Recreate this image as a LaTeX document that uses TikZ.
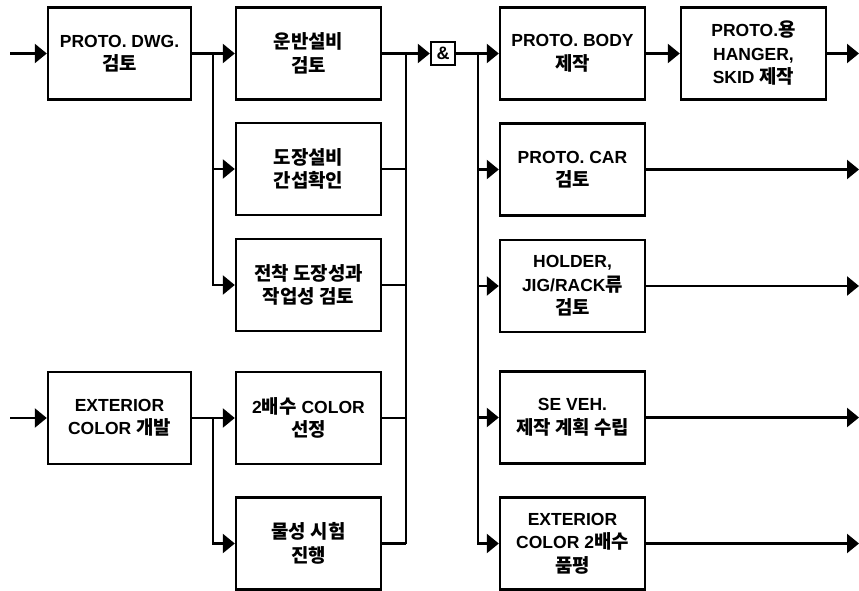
\documentclass[tikz,border=0pt]{standalone}
\usepackage{fontspec}
\setmainfont{Liberation Sans}
\newfontfamily\kr{Noto Sans CJK KR}[Scale=1.08]
\usetikzlibrary{arrows.meta}
\begin{document}
\begin{tikzpicture}[x=1pt,y=-1pt,
  box/.style={draw, line width=2.4pt, minimum width=145pt, minimum height=92pt,
    align=center, inner sep=0pt, font=\bfseries\fontsize{17.5}{23.5}\selectfont},
  ampbox/.style={draw, line width=2.4pt, minimum width=24pt, minimum height=23pt,
    inner sep=0pt, font=\bfseries\fontsize{18}{18}\selectfont},
  conn/.style={line width=2.4pt},
  arr/.style={conn, -{Triangle[length=12pt,width=19pt]}}]
\useasboundingbox (0,0) rectangle (859,591);

% left column
\node[box, minimum width=143pt] (b1) at (119.5,53.5) {PROTO. DWG.\\{\kr 검토}};
\node[box, minimum width=143pt] (b5) at (119.5,418) {EXTERIOR\\COLOR {\kr 개발}};
% middle column
\node[box] (b2) at (308.5,53.5) {{\kr 운반설비}\\{\kr 검토}};
\node[box] (b3) at (308.5,169) {{\kr 도장설비}\\{\kr 간섭확인}};
\node[box] (b4) at (308.5,285) {{\kr 전착 도장성과}\\{\kr 작업성 검토}};
\node[box] (b6) at (308.5,418) {2{\kr 배수} COLOR\\{\kr 선정}};
\node[box] (b7) at (308.5,543.5) {{\kr 물성 시험}\\{\kr 진행}};
% and gate
\node[ampbox] (amp) at (443,53.5) {\&};
% right column
\node[box] (r1) at (572.5,53.5) {PROTO. BODY\\{\kr 제작}};
\node[box] (r2) at (753.5,53.5) {PROTO.{\kr 용}\\HANGER,\\SKID {\kr 제작}};
\node[box] (r3) at (572.5,169.5) {PROTO. CAR\\{\kr 검토}};
\node[box] (r4) at (572.5,286) {HOLDER,\\JIG/RACK{\kr 류}\\{\kr 검토}};
\node[box] (r5) at (572.5,417.5) {SE VEH.\\{\kr 제작 계획 수립}};
\node[box] (r6) at (572.5,543.5) {EXTERIOR\\COLOR 2{\kr 배수}\\{\kr 품평}};

% junction coordinates
\coordinate (in1) at (10,53.5);
\coordinate (in2) at (10,418);
\coordinate (j1) at (213,53.5);
\coordinate (j2) at (213,418);
\coordinate (m1) at (406,53.5);
\coordinate (m2) at (406,543.5);
\coordinate (k1) at (478,53.5);
\coordinate (o2) at (859,53.5);
\coordinate (o3) at (859,169.5);
\coordinate (o4) at (859,286);
\coordinate (o5) at (859,417.5);
\coordinate (o6) at (859,543.5);

% inputs
\draw[arr] (in1) -- (b1.west);
\draw[arr] (in2) -- (b5.west);
% first fan-out
\draw[conn] (b1.east) -- (j1);
\draw[arr] (j1) -- (b2.west);
\draw[arr] (j1) |- (b3.west);
\draw[arr] (j1) |- (b4.west);
% second fan-out
\draw[conn] (b5.east) -- (j2);
\draw[arr] (j2) -- (b6.west);
\draw[arr] (j2) |- (b7.west);
% merge
\draw[conn] (b2.east) -- (m1);
\draw[conn] (b3.east) -- (b3.east -| m1);
\draw[conn] (b4.east) -- (b4.east -| m1);
\draw[conn] (b6.east) -- (b6.east -| m1);
\draw[conn] (b7.east) -- (m2);
\draw[conn] (m1) -- (m2);
\draw[arr] (m1) -- (amp.west);
% right fan-out
\draw[conn] (amp.east) -- (k1);
\draw[arr] (k1) -- (r1.west);
\draw[arr] (k1) |- (r3.west);
\draw[arr] (k1) |- (r4.west);
\draw[arr] (k1) |- (r5.west);
\draw[arr] (k1) |- (r6.west);
\draw[arr] (r1.east) -- (r2.west);
% outputs
\draw[arr] (r2.east) -- (o2);
\draw[arr] (r3.east) -- (o3);
\draw[arr] (r4.east) -- (o4);
\draw[arr] (r5.east) -- (o5);
\draw[arr] (r6.east) -- (o6);
\end{tikzpicture}
\end{document}
